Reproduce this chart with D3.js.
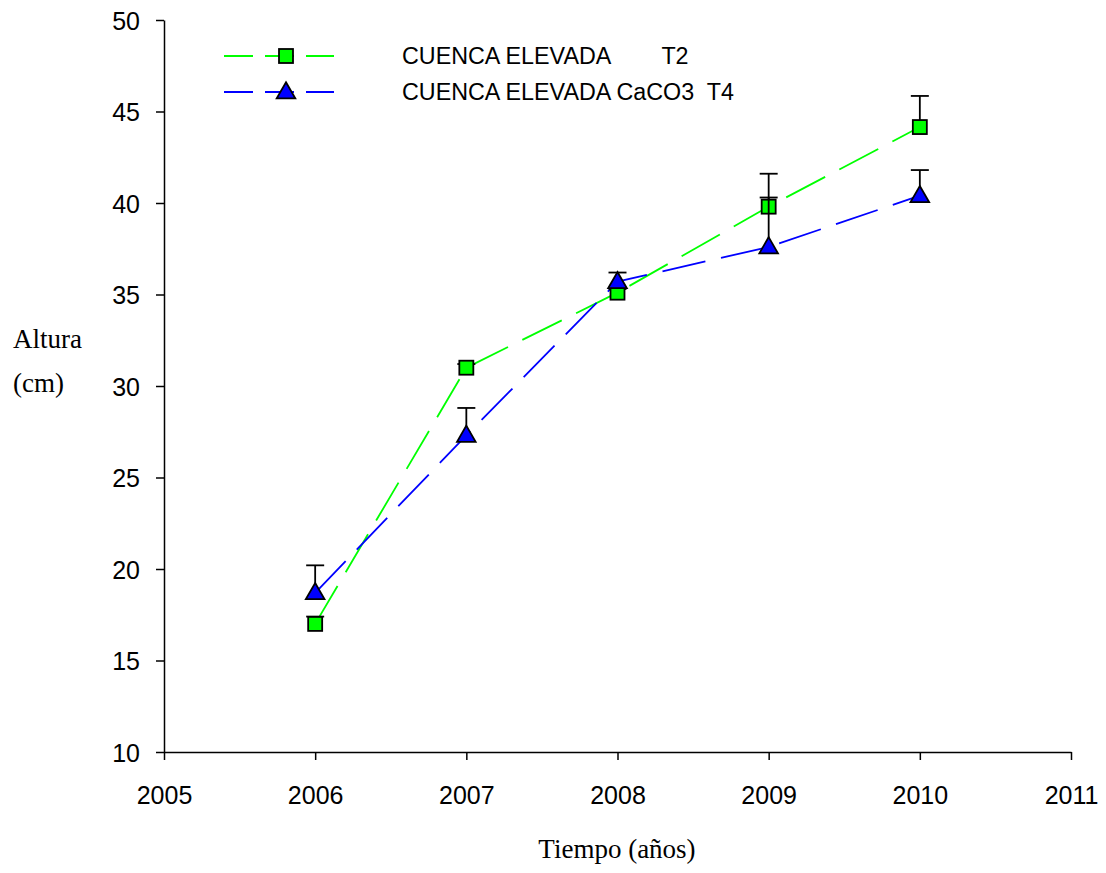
<!DOCTYPE html>
<html lang="es">
<head>
<meta charset="UTF-8">
<title>Altura vs Tiempo</title>
<style>
  body { margin: 0; background: #fff; }
  svg { display: block; }
  .axis path, .axis line { stroke: #000; stroke-width: 1.5px; }
  .axis text { font-family: "Liberation Sans", Arial, sans-serif; font-size: 25px; fill: #000; }
  .title { font-family: "Liberation Serif", "Times New Roman", serif; font-size: 27px; fill: #000; }
  .legend text { font-family: "Liberation Sans", Arial, sans-serif; font-size: 23.3px; fill: #000; }
</style>
</head>
<body>
<svg width="1106" height="873"></svg>
<script src="https://d3js.org/d3.v7.min.js"></script>
<script>
// data
const years = [2006, 2007, 2008, 2009, 2010];
const t2Values = [17.0, 31.0, 35.1, 39.8, 44.15];
const t2Errors = [0.4, 0.2, 0.2, 1.8, 1.7];
const t4Values = [18.7, 27.3, 35.7, 37.6, 40.4];
const t4Errors = [1.5, 1.5, 0.5, 2.7, 1.4];
const xTicks = [2005, 2006, 2007, 2008, 2009, 2010, 2011];
const yTicks = [10, 15, 20, 25, 30, 35, 40, 45, 50];
const seriesNames = ["CUENCA ELEVADA        T2", "CUENCA ELEVADA CaCO3  T4"];

const svg = d3.select("svg");
const margin = { left: 164, right: 35, top: 20, bottom: 121 };
const W = 1106, H = 873;

const x = d3.scaleLinear().domain([2005, 2011]).range([margin.left, W - margin.right]);
const y = d3.scaleLinear().domain([10, 50]).range([H - margin.bottom, margin.top]);

// axes
const xAxisG = svg.append("g")
  .attr("class", "axis")
  .attr("transform", `translate(0,${y(10)})`)
  .call(d3.axisBottom(x).tickValues(xTicks).tickFormat(d3.format("d")).tickSize(8).tickSizeOuter(0));
xAxisG.selectAll("text").attr("y", 43).attr("dy", null).attr("dominant-baseline", "central");

const yAxisG = svg.append("g")
  .attr("class", "axis")
  .attr("transform", `translate(${x(2005)},0)`)
  .call(d3.axisLeft(y).tickValues(yTicks).tickSize(8).tickSizeOuter(0).tickPadding(16));
yAxisG.selectAll("text").attr("dy", null).attr("dominant-baseline", "central");

// titles
svg.append("text").attr("class", "title").attr("x", 13).attr("y", 348).text("Altura");
svg.append("text").attr("class", "title").attr("x", 13).attr("y", 392).text("(cm)");
svg.append("text").attr("class", "title").attr("x", 617).attr("y", 858).attr("text-anchor", "middle").text("Tiempo (años)");

const line = d3.line().x(d => x(d[0])).y(d => y(d[1]));
const t2 = years.map((yr, i) => [yr, t2Values[i], t2Errors[i]]);
const t4 = years.map((yr, i) => [yr, t4Values[i], t4Errors[i]]);

// lines
svg.append("path").datum(t2).attr("d", line)
  .attr("fill", "none").attr("stroke", "#00ff00").attr("stroke-width", 1.8).attr("stroke-dasharray", "44,16");
svg.append("path").datum(t4).attr("d", line)
  .attr("fill", "none").attr("stroke", "#0000ff").attr("stroke-width", 1.8).attr("stroke-dasharray", "44,16");

function errorBars(data) {
  const g = svg.append("g").attr("stroke", "#000").attr("stroke-width", 1.8);
  g.selectAll("line.v").data(data).join("line")
    .attr("x1", d => x(d[0])).attr("x2", d => x(d[0]))
    .attr("y1", d => y(d[1])).attr("y2", d => y(d[1] + d[2]));
  g.selectAll("line.c").data(data).join("line")
    .attr("x1", d => x(d[0]) - 9).attr("x2", d => x(d[0]) + 9)
    .attr("y1", d => y(d[1] + d[2])).attr("y2", d => y(d[1] + d[2]));
}

const tri = d3.symbol().type(d3.symbolTriangle).size(150);

// T2 error bars + squares
errorBars(t2);
svg.append("g").selectAll("rect").data(t2).join("rect")
  .attr("x", d => x(d[0]) - 7).attr("y", d => y(d[1]) - 7)
  .attr("width", 14).attr("height", 14)
  .attr("fill", "#00ff00").attr("stroke", "#000").attr("stroke-width", 1.8);

// T4 error bars + triangles
errorBars(t4);
svg.append("g").selectAll("path").data(t4).join("path")
  .attr("d", tri)
  .attr("transform", d => `translate(${x(d[0])},${y(d[1]) + 1})`)
  .attr("fill", "#0000ff").attr("stroke", "#000").attr("stroke-width", 1.8);

// legend
const legend = svg.append("g").attr("class", "legend");
const legY = [56, 92];
const colors = ["#00ff00", "#0000ff"];
[0, 1].forEach(i => {
  legend.append("line").attr("x1", 224).attr("x2", 334).attr("y1", legY[i]).attr("y2", legY[i])
    .attr("stroke", colors[i]).attr("stroke-width", 1.8).attr("stroke-dasharray", "29,12");
  if (i === 0) {
    legend.append("rect").attr("x", 279).attr("y", legY[i] - 7).attr("width", 14).attr("height", 14)
      .attr("fill", colors[i]).attr("stroke", "#000").attr("stroke-width", 1.8);
  } else {
    legend.append("path").attr("d", tri).attr("transform", `translate(286,${legY[i] + 1})`)
      .attr("fill", colors[i]).attr("stroke", "#000").attr("stroke-width", 1.8);
  }
  legend.append("text").attr("x", 402).attr("y", legY[i]).attr("dominant-baseline", "central")
    .attr("xml:space", "preserve").style("white-space", "pre").text(seriesNames[i]);
});
</script>
</body>
</html>
